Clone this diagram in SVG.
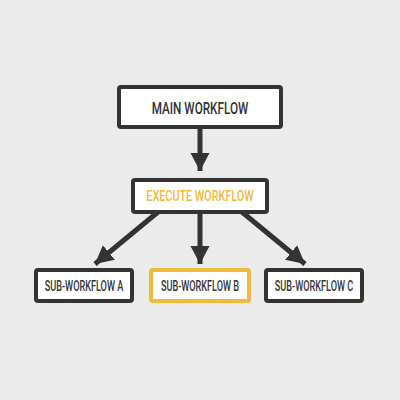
<svg xmlns="http://www.w3.org/2000/svg" width="400" height="400" viewBox="0 0 400 400">
<defs>
<style>
.box{fill:#fff;stroke:#333;stroke-width:4}
.hl{stroke:#f0b93a}
.t{font-family:"Roboto","Liberation Sans",sans-serif;font-weight:500;fill:#333;text-anchor:middle;dominant-baseline:central}
.ty{fill:#f0b93a}
.c{stroke:#333;stroke-width:5;fill:none}
</style>
<marker id="ah" markerUnits="userSpaceOnUse" markerWidth="22" markerHeight="22" viewBox="0 0 22 22" refX="18" refY="11" orient="auto">
<path d="M0,1.5 L18,11 L0,20.5 Z" fill="#333"/>
</marker>
</defs>
<rect width="400" height="400" fill="#ebebeb"/>
<g id="connectors">
<line class="c" x1="200" y1="129" x2="200" y2="171" marker-end="url(#ah)"/>
<line class="c" x1="158" y1="212" x2="95" y2="264" marker-end="url(#ah)"/>
<line class="c" x1="200" y1="213" x2="200" y2="264" marker-end="url(#ah)"/>
<line class="c" x1="242" y1="212" x2="305" y2="264" marker-end="url(#ah)"/>
</g>
<g id="main">
<rect class="box" x="119" y="87" width="162" height="40" rx="2"/>
<text class="t" transform="translate(200 108) scale(0.69 1)" font-size="17">MAIN WORKFLOW</text>
</g>
<g id="execute">
<rect class="box" x="133" y="180" width="134" height="32" rx="2"/>
<text class="t ty" transform="translate(200 196) scale(0.72 1)" font-size="15">EXECUTE WORKFLOW</text>
</g>
<g id="subA">
<rect class="box" x="36" y="270" width="96" height="31" rx="2"/>
<text class="t" transform="translate(84 286) scale(0.63 1)" font-size="14.5">SUB-WORKFLOW A</text>
</g>
<g id="subB">
<rect class="box hl" x="151" y="270" width="98" height="31" rx="2"/>
<text class="t" transform="translate(200 286) scale(0.63 1)" font-size="14.5">SUB-WORKFLOW B</text>
</g>
<g id="subC">
<rect class="box" x="266" y="270" width="96" height="31" rx="2"/>
<text class="t" transform="translate(314 286) scale(0.63 1)" font-size="14.5">SUB-WORKFLOW C</text>
</g>
</svg>
